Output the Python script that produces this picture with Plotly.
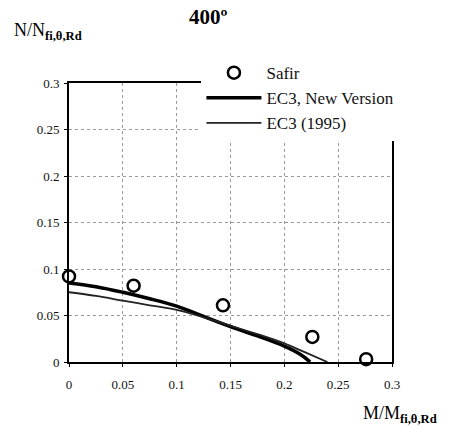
import plotly.graph_objects as go

# Safir results
safir_x = [0.0, 0.06, 0.143, 0.226, 0.276]
safir_y = [0.092, 0.082, 0.061, 0.027, 0.003]

# EC3, new version
ec3_new_x = [0.0, 0.025, 0.05, 0.075, 0.1, 0.125, 0.15, 0.175, 0.2, 0.215, 0.224]
ec3_new_y = [0.085, 0.081, 0.075, 0.068, 0.060, 0.049, 0.038, 0.028, 0.017, 0.008, 0.0]

# EC3 (1995)
ec3_old_x = [0.0, 0.025, 0.05, 0.075, 0.1, 0.125, 0.15, 0.175, 0.2, 0.22, 0.24]
ec3_old_y = [0.075, 0.071, 0.066, 0.061, 0.056, 0.048, 0.039, 0.030, 0.020, 0.010, 0.0]

ticks = [0, 0.05, 0.1, 0.15, 0.2, 0.25, 0.3]
tick_text = ["0", "0.05", "0.1", "0.15", "0.2", "0.25", "0.3"]

serif = "Liberation Serif"

fig = go.Figure()

fig.add_trace(go.Scatter(
    x=safir_x, y=safir_y, mode="markers", name="Safir",
    marker=dict(symbol="circle-open", size=12, color="black", line=dict(width=2.5)),
    cliponaxis=False))
fig.add_trace(go.Scatter(
    x=ec3_new_x, y=ec3_new_y, mode="lines", name="EC3, New Version",
    line=dict(color="black", width=3.5, shape="spline")))
fig.add_trace(go.Scatter(
    x=ec3_old_x, y=ec3_old_y, mode="lines", name="EC3 (1995)",
    line=dict(color="#222", width=1.8, shape="spline")))

ax = dict(
    range=[0, 0.3], tickvals=ticks, ticktext=tick_text,
    showgrid=True, gridcolor="#999", griddash="dot", gridwidth=1,
    showline=True, linecolor="black", linewidth=2, mirror=True,
    ticks="outside", ticklen=3, tickcolor="black",
    zeroline=False, tickfont=dict(family=serif, size=13),
)

fig.update_layout(
    width=449, height=429,
    margin=dict(l=69, r=57, t=83, b=67),
    plot_bgcolor="white", paper_bgcolor="white",
    font=dict(family=serif, color="#111"),
    xaxis=ax, yaxis=ax,
    showlegend=True,
    legend=dict(
        x=0.41, y=1.10, xanchor="left", yanchor="top",
        bgcolor="white", font=dict(family=serif, size=17),
        tracegroupgap=0, itemwidth=55, entrywidth=160,
    ),
)
fig.update_xaxes(ticklabelstandoff=6)
fig.update_yaxes(ticklabelstandoff=2)

# axis titles and heading, positioned in page pixels
W, H = 449, 429
pw, ph = W - 69 - 57, H - 83 - 67
labels = [
    ("<b>400º</b>", 208, 17, "center", 21),
    ("N/N<sub><b>fi,θ,Rd</b></sub>", 12, 31, "left", 18),
    ("M/M<sub><b>fi,θ,Rd</b></sub>", 361, 414, "left", 18),
]
for text, px, py, anchor, size in labels:
    fig.add_annotation(
        text=text, xref="paper", yref="paper",
        x=(px - 69) / pw, y=(H - 67 - py) / ph,
        xanchor=anchor, yanchor="middle", showarrow=False,
        font=dict(family=serif, size=size, color="black"))

fig.write_html("out.html", config={"displayModeBar": False},
               post_script="document.body.style.margin='0px';")
